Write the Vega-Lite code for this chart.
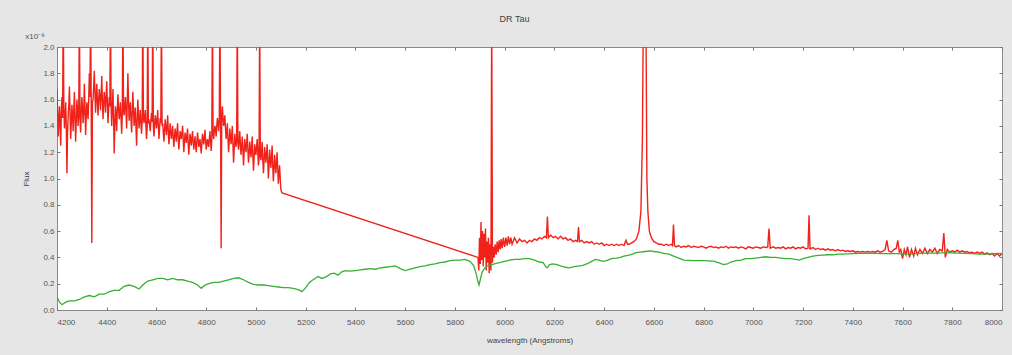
{
  "$schema": "https://vega.github.io/schema/vega-lite/v6.json",
  "autosize": {"type": "none"},
  "padding": {"left": 57, "top": 47, "right": 10, "bottom": 45},
  "width": 945,
  "height": 263,
  "background": "#e6e6e6",
  "title": {"text": "DR Tau", "fontSize": 9, "font": "Liberation Sans", "color": "#444", "fontWeight": "normal", "offset": 9, "dx": -15},
  "datasets": {
    "red": [
      {"w":4200,"f":1.68},{"w":4205,"f":1.32},{"w":4210,"f":1.55},{"w":4215,"f":1.25},{"w":4220,"f":1.62},{"w":4225,"f":2.3},{"w":4230,"f":1.38},{"w":4235,"f":1.58},{"w":4240,"f":1.04},{"w":4245,"f":1.48},
      {"w":4250,"f":1.70},{"w":4255,"f":1.30},{"w":4260,"f":1.56},{"w":4265,"f":1.36},{"w":4270,"f":1.66},{"w":4275,"f":1.28},{"w":4280,"f":1.60},{"w":4285,"f":1.40},{"w":4290,"f":2.3},{"w":4295,"f":1.35},
      {"w":4300,"f":1.62},{"w":4305,"f":1.42},{"w":4310,"f":1.72},{"w":4315,"f":1.33},{"w":4320,"f":1.58},{"w":4325,"f":1.45},{"w":4330,"f":1.80},{"w":4335,"f":2.3},{"w":4340,"f":0.51},{"w":4345,"f":1.60},
      {"w":4350,"f":1.82},{"w":4355,"f":1.50},{"w":4360,"f":1.72},{"w":4365,"f":1.48},{"w":4370,"f":1.68},{"w":4375,"f":1.52},{"w":4380,"f":1.78},{"w":4385,"f":1.45},{"w":4390,"f":1.66},{"w":4395,"f":1.50},
      {"w":4400,"f":1.74},{"w":4405,"f":1.42},{"w":4410,"f":1.62},{"w":4415,"f":2.3},{"w":4420,"f":1.40},{"w":4425,"f":1.68},{"w":4430,"f":1.19},{"w":4435,"f":1.55},{"w":4440,"f":1.36},{"w":4445,"f":1.64},
      {"w":4450,"f":1.45},{"w":4455,"f":1.58},{"w":4460,"f":1.34},{"w":4465,"f":2.3},{"w":4470,"f":1.48},{"w":4475,"f":1.62},{"w":4480,"f":1.38},{"w":4485,"f":1.80},{"w":4490,"f":1.44},{"w":4495,"f":1.58},
      {"w":4500,"f":1.35},{"w":4505,"f":1.66},{"w":4510,"f":1.40},{"w":4515,"f":1.54},{"w":4520,"f":1.25},{"w":4525,"f":1.60},{"w":4530,"f":1.38},{"w":4535,"f":1.52},{"w":4540,"f":1.34},{"w":4545,"f":2.3},
      {"w":4550,"f":1.42},{"w":4555,"f":1.52},{"w":4560,"f":1.30},{"w":4565,"f":2.3},{"w":4570,"f":1.45},{"w":4575,"f":1.36},{"w":4580,"f":1.50},{"w":4585,"f":2.3},{"w":4590,"f":1.32},{"w":4595,"f":1.48},
      {"w":4600,"f":1.38},{"w":4605,"f":1.52},{"w":4610,"f":1.30},{"w":4615,"f":1.46},{"w":4620,"f":2.3},{"w":4625,"f":1.42},{"w":4630,"f":1.28},{"w":4635,"f":1.45},{"w":4640,"f":1.33},{"w":4645,"f":1.48},
      {"w":4650,"f":1.26},{"w":4655,"f":1.42},{"w":4660,"f":1.30},{"w":4665,"f":1.40},{"w":4670,"f":1.24},{"w":4675,"f":1.38},{"w":4680,"f":1.28},{"w":4685,"f":1.42},{"w":4690,"f":1.22},{"w":4695,"f":1.36},
      {"w":4700,"f":1.30},{"w":4705,"f":1.40},{"w":4710,"f":1.20},{"w":4715,"f":1.35},{"w":4720,"f":1.27},{"w":4725,"f":1.38},{"w":4730,"f":1.18},{"w":4735,"f":1.34},{"w":4740,"f":1.25},{"w":4745,"f":1.36},
      {"w":4750,"f":1.22},{"w":4755,"f":1.32},{"w":4760,"f":1.20},{"w":4765,"f":1.35},{"w":4770,"f":1.24},{"w":4775,"f":1.30},{"w":4780,"f":1.19},{"w":4785,"f":1.34},{"w":4790,"f":1.26},{"w":4795,"f":1.37},
      {"w":4800,"f":1.22},{"w":4805,"f":1.30},{"w":4810,"f":1.24},{"w":4815,"f":1.36},{"w":4820,"f":1.21},{"w":4825,"f":2.3},{"w":4830,"f":1.30},{"w":4835,"f":1.40},{"w":4840,"f":1.32},{"w":4845,"f":1.46},
      {"w":4850,"f":1.36},{"w":4855,"f":2.3},{"w":4860,"f":0.47},{"w":4865,"f":1.55},{"w":4870,"f":1.40},{"w":4875,"f":1.48},{"w":4880,"f":1.30},{"w":4885,"f":1.42},{"w":4890,"f":1.20},{"w":4895,"f":1.38},
      {"w":4900,"f":1.26},{"w":4905,"f":1.40},{"w":4910,"f":1.12},{"w":4915,"f":1.34},{"w":4920,"f":1.24},{"w":4925,"f":2.3},{"w":4930,"f":1.22},{"w":4935,"f":1.36},{"w":4940,"f":1.18},{"w":4945,"f":1.32},
      {"w":4950,"f":1.10},{"w":4955,"f":1.30},{"w":4960,"f":1.20},{"w":4965,"f":1.34},{"w":4970,"f":1.12},{"w":4975,"f":1.28},{"w":4980,"f":1.16},{"w":4985,"f":1.32},{"w":4990,"f":1.06},{"w":4995,"f":1.26},
      {"w":5000,"f":1.18},{"w":5005,"f":1.30},{"w":5010,"f":1.10},{"w":5015,"f":2.3},{"w":5020,"f":1.14},{"w":5025,"f":1.28},{"w":5030,"f":1.04},{"w":5035,"f":1.24},{"w":5040,"f":1.12},{"w":5045,"f":1.26},
      {"w":5050,"f":1.00},{"w":5055,"f":1.22},{"w":5060,"f":1.08},{"w":5065,"f":1.25},{"w":5070,"f":0.98},{"w":5075,"f":1.18},{"w":5080,"f":1.04},{"w":5085,"f":1.20},{"w":5090,"f":0.96},{"w":5095,"f":1.10},
      {"w":5100,"f":0.92},{"w":5105,"f":0.89},
      {"w":4202.5,"f":1.50},{"w":4207.5,"f":1.44},{"w":4212.5,"f":1.40},{"w":4217.5,"f":1.52},{"w":4222.5,"f":1.46},{"w":4227.5,"f":1.55},{"w":4232.5,"f":1.45},{"w":4237.5,"f":1.38},{"w":4242.5,"f":1.35},{"w":4247.5,"f":1.56},
      {"w":4252.5,"f":1.50},{"w":4257.5,"f":1.42},{"w":4262.5,"f":1.48},{"w":4267.5,"f":1.52},{"w":4272.5,"f":1.45},{"w":4277.5,"f":1.44},{"w":4282.5,"f":1.52},{"w":4287.5,"f":1.50},{"w":4292.5,"f":1.46},{"w":4297.5,"f":1.50},
      {"w":4302.5,"f":1.54},{"w":4307.5,"f":1.50},{"w":4312.5,"f":1.55},{"w":4317.5,"f":1.46},{"w":4322.5,"f":1.52},{"w":4327.5,"f":1.60},{"w":4332.5,"f":1.62},{"w":4337.5,"f":1.60},{"w":4342.5,"f":1.58},{"w":4347.5,"f":1.70},
      {"w":4352.5,"f":1.66},{"w":4357.5,"f":1.62},{"w":4362.5,"f":1.58},{"w":4367.5,"f":1.60},{"w":4372.5,"f":1.62},{"w":4377.5,"f":1.64},{"w":4382.5,"f":1.60},{"w":4387.5,"f":1.56},{"w":4392.5,"f":1.60},{"w":4397.5,"f":1.62},
      {"w":4402.5,"f":1.58},{"w":4407.5,"f":1.52},{"w":4412.5,"f":1.55},{"w":4417.5,"f":1.56},{"w":4422.5,"f":1.54},{"w":4427.5,"f":1.46},{"w":4432.5,"f":1.40},{"w":4437.5,"f":1.48},{"w":4442.5,"f":1.52},{"w":4447.5,"f":1.54},
      {"w":4452.5,"f":1.50},{"w":4457.5,"f":1.46},{"w":4462.5,"f":1.48},{"w":4467.5,"f":1.52},{"w":4472.5,"f":1.56},{"w":4477.5,"f":1.50},{"w":4482.5,"f":1.58},{"w":4487.5,"f":1.60},{"w":4492.5,"f":1.52},{"w":4497.5,"f":1.45},
      {"w":4502.5,"f":1.50},{"w":4507.5,"f":1.53},{"w":4512.5,"f":1.48},{"w":4517.5,"f":1.40},{"w":4522.5,"f":1.44},{"w":4527.5,"f":1.49},{"w":4532.5,"f":1.45},{"w":4537.5,"f":1.42},{"w":4542.5,"f":1.44},{"w":4547.5,"f":1.46},
      {"w":4552.5,"f":1.47},{"w":4557.5,"f":1.40},{"w":4562.5,"f":1.38},{"w":4567.5,"f":1.42},{"w":4572.5,"f":1.40},{"w":4577.5,"f":1.44},{"w":4582.5,"f":1.43},{"w":4587.5,"f":1.40},{"w":4592.5,"f":1.41},{"w":4597.5,"f":1.44},
      {"w":4602.5,"f":1.45},{"w":4607.5,"f":1.40},{"w":4612.5,"f":1.38},{"w":4617.5,"f":1.42},{"w":4622.5,"f":1.40},{"w":4627.5,"f":1.35},{"w":4632.5,"f":1.37},{"w":4637.5,"f":1.39},{"w":4642.5,"f":1.40},{"w":4647.5,"f":1.36},
      {"w":4652.5,"f":1.33},{"w":4657.5,"f":1.36},{"w":4662.5,"f":1.35},{"w":4667.5,"f":1.31},{"w":4672.5,"f":1.32},{"w":4677.5,"f":1.33},{"w":4682.5,"f":1.36},{"w":4687.5,"f":1.31},{"w":4692.5,"f":1.29},{"w":4697.5,"f":1.33},
      {"w":4702.5,"f":1.35},{"w":4707.5,"f":1.30},{"w":4712.5,"f":1.28},{"w":4717.5,"f":1.31},{"w":4722.5,"f":1.33},{"w":4727.5,"f":1.27},{"w":4732.5,"f":1.26},{"w":4737.5,"f":1.30},{"w":4742.5,"f":1.31},{"w":4747.5,"f":1.28},
      {"w":4752.5,"f":1.27},{"w":4757.5,"f":1.25},{"w":4762.5,"f":1.28},{"w":4767.5,"f":1.30},{"w":4772.5,"f":1.27},{"w":4777.5,"f":1.24},{"w":4782.5,"f":1.27},{"w":4787.5,"f":1.30},{"w":4792.5,"f":1.31},{"w":4797.5,"f":1.29},
      {"w":4802.5,"f":1.26},{"w":4807.5,"f":1.27},{"w":4812.5,"f":1.30},{"w":4817.5,"f":1.28},{"w":4822.5,"f":1.30},{"w":4827.5,"f":1.34},{"w":4832.5,"f":1.36},{"w":4837.5,"f":1.37},{"w":4842.5,"f":1.40},{"w":4847.5,"f":1.42},
      {"w":4852.5,"f":1.45},{"w":4857.5,"f":1.50},{"w":4862.5,"f":1.48},{"w":4867.5,"f":1.46},{"w":4872.5,"f":1.44},{"w":4877.5,"f":1.38},{"w":4882.5,"f":1.35},{"w":4887.5,"f":1.30},{"w":4892.5,"f":1.28},{"w":4897.5,"f":1.32},
      {"w":4902.5,"f":1.33},{"w":4907.5,"f":1.26},{"w":4912.5,"f":1.22},{"w":4917.5,"f":1.28},{"w":4922.5,"f":1.30},{"w":4927.5,"f":1.27},{"w":4932.5,"f":1.28},{"w":4937.5,"f":1.26},{"w":4942.5,"f":1.24},{"w":4947.5,"f":1.22},
      {"w":4952.5,"f":1.20},{"w":4957.5,"f":1.24},{"w":4962.5,"f":1.27},{"w":4967.5,"f":1.22},{"w":4972.5,"f":1.19},{"w":4977.5,"f":1.22},{"w":4982.5,"f":1.24},{"w":4987.5,"f":1.18},{"w":4992.5,"f":1.15},{"w":4997.5,"f":1.21},
      {"w":5002.5,"f":1.24},{"w":5007.5,"f":1.20},{"w":5012.5,"f":1.16},{"w":5017.5,"f":1.18},{"w":5022.5,"f":1.20},{"w":5027.5,"f":1.15},{"w":5032.5,"f":1.13},{"w":5037.5,"f":1.18},{"w":5042.5,"f":1.19},{"w":5047.5,"f":1.14},
      {"w":5052.5,"f":1.10},{"w":5057.5,"f":1.15},{"w":5062.5,"f":1.16},{"w":5067.5,"f":1.10},{"w":5072.5,"f":1.07},{"w":5077.5,"f":1.11},{"w":5082.5,"f":1.12},{"w":5087.5,"f":1.08},{"w":5092.5,"f":1.03},{"w":5097.5,"f":1.01},
      {"w":5102.5,"f":0.90},
      {"w":5893,"f":0.40},{"w":5896,"f":0.30},{"w":5899,"f":0.55},{"w":5902,"f":0.35},{"w":5905,"f":0.67},{"w":5908,"f":0.38},{"w":5911,"f":0.60},{"w":5914,"f":0.33},{"w":5917,"f":0.58},{"w":5920,"f":0.40},
      {"w":5923,"f":0.62},{"w":5926,"f":0.30},{"w":5929,"f":0.52},{"w":5932,"f":0.36},{"w":5935,"f":0.55},{"w":5938,"f":0.28},{"w":5941,"f":0.50},{"w":5945,"f":0.30},{"w":5948,"f":2.3},{"w":5951,"f":0.36},
      {"w":5955,"f":0.48},{"w":5958,"f":0.40},{"w":5962,"f":0.50},{"w":5966,"f":0.42},{"w":5970,"f":0.52},{"w":5974,"f":0.44},{"w":5978,"f":0.53},{"w":5982,"f":0.46},{"w":5986,"f":0.54},{"w":5990,"f":0.47},
      {"w":5995,"f":0.55},{"w":6000,"f":0.48},{"w":6005,"f":0.55},{"w":6010,"f":0.49},{"w":6015,"f":0.56},{"w":6020,"f":0.50},{"w":6025,"f":0.55},{"w":6030,"f":0.50},{"w":6040,"f":0.55},{"w":6050,"f":0.51},
      {"w":6060,"f":0.54},{"w":6070,"f":0.52},{"w":6080,"f":0.53},{"w":6090,"f":0.51},{"w":6100,"f":0.53},{"w":6110,"f":0.52},{"w":6120,"f":0.54},{"w":6130,"f":0.53},{"w":6140,"f":0.55},{"w":6150,"f":0.54},
      {"w":6160,"f":0.56},{"w":6168,"f":0.55},{"w":6172,"f":0.71},{"w":6176,"f":0.55},{"w":6185,"f":0.57},{"w":6195,"f":0.55},{"w":6205,"f":0.56},{"w":6215,"f":0.54},{"w":6225,"f":0.56},{"w":6235,"f":0.54},
      {"w":6245,"f":0.55},{"w":6255,"f":0.53},{"w":6265,"f":0.54},{"w":6275,"f":0.52},{"w":6285,"f":0.53},{"w":6293,"f":0.52},{"w":6297,"f":0.63},{"w":6301,"f":0.52},{"w":6310,"f":0.53},{"w":6320,"f":0.51},
      {"w":6330,"f":0.52},{"w":6340,"f":0.51},{"w":6350,"f":0.52},{"w":6360,"f":0.50},{"w":6370,"f":0.51},{"w":6380,"f":0.50},{"w":6390,"f":0.51},{"w":6400,"f":0.49},{"w":6410,"f":0.50},{"w":6420,"f":0.49},
      {"w":6430,"f":0.50},{"w":6440,"f":0.49},{"w":6450,"f":0.50},{"w":6460,"f":0.49},{"w":6470,"f":0.50},{"w":6480,"f":0.49},{"w":6488,"f":0.53},{"w":6494,"f":0.50},{"w":6500,"f":0.50},{"w":6510,"f":0.51},
      {"w":6520,"f":0.52},{"w":6530,"f":0.54},{"w":6540,"f":0.60},{"w":6548,"f":0.75},{"w":6554,"f":1.30},{"w":6558,"f":2.3},{"w":6563,"f":2.5},{"w":6568,"f":2.3},{"w":6572,"f":1.0},{"w":6576,"f":0.75},
      {"w":6582,"f":0.60},{"w":6590,"f":0.55},{"w":6600,"f":0.52},{"w":6610,"f":0.51},{"w":6620,"f":0.50},{"w":6630,"f":0.50},{"w":6640,"f":0.49},{"w":6650,"f":0.50},{"w":6660,"f":0.49},{"w":6670,"f":0.50},
      {"w":6675,"f":0.49},{"w":6679,"f":0.65},{"w":6683,"f":0.49},{"w":6690,"f":0.48},{"w":6700,"f":0.49},{"w":6710,"f":0.475},{"w":6720,"f":0.485},{"w":6730,"f":0.48},{"w":6740,"f":0.49},{"w":6750,"f":0.475},
      {"w":6760,"f":0.485},{"w":6770,"f":0.48},{"w":6780,"f":0.475},{"w":6790,"f":0.485},{"w":6800,"f":0.48},{"w":6810,"f":0.47},{"w":6820,"f":0.48},{"w":6830,"f":0.485},{"w":6840,"f":0.475},{"w":6850,"f":0.48},
      {"w":6860,"f":0.47},{"w":6870,"f":0.48},{"w":6880,"f":0.475},{"w":6890,"f":0.485},{"w":6900,"f":0.47},{"w":6910,"f":0.48},{"w":6920,"f":0.475},{"w":6930,"f":0.48},{"w":6940,"f":0.47},{"w":6950,"f":0.48},
      {"w":6960,"f":0.475},{"w":6970,"f":0.465},{"w":6980,"f":0.48},{"w":6990,"f":0.475},{"w":7000,"f":0.47},{"w":7010,"f":0.48},{"w":7020,"f":0.475},{"w":7030,"f":0.47},{"w":7040,"f":0.48},{"w":7050,"f":0.475},
      {"w":7058,"f":0.48},{"w":7063,"f":0.62},{"w":7068,"f":0.47},{"w":7080,"f":0.48},{"w":7090,"f":0.47},{"w":7100,"f":0.475},{"w":7110,"f":0.47},{"w":7120,"f":0.48},{"w":7130,"f":0.465},{"w":7140,"f":0.475},
      {"w":7150,"f":0.47},{"w":7160,"f":0.48},{"w":7170,"f":0.465},{"w":7180,"f":0.475},{"w":7190,"f":0.47},{"w":7200,"f":0.48},{"w":7210,"f":0.465},{"w":7220,"f":0.47},{"w":7224,"f":0.72},{"w":7228,"f":0.465},
      {"w":7240,"f":0.475},{"w":7250,"f":0.46},{"w":7260,"f":0.47},{"w":7270,"f":0.46},{"w":7280,"f":0.465},{"w":7290,"f":0.455},{"w":7300,"f":0.465},{"w":7310,"f":0.455},{"w":7320,"f":0.46},{"w":7330,"f":0.45},
      {"w":7340,"f":0.46},{"w":7350,"f":0.45},{"w":7360,"f":0.455},{"w":7370,"f":0.445},{"w":7380,"f":0.45},{"w":7390,"f":0.445},{"w":7400,"f":0.45},{"w":7410,"f":0.44},{"w":7420,"f":0.445},{"w":7430,"f":0.44},
      {"w":7440,"f":0.445},{"w":7450,"f":0.44},{"w":7460,"f":0.445},{"w":7470,"f":0.44},{"w":7480,"f":0.445},{"w":7490,"f":0.44},{"w":7500,"f":0.45},{"w":7510,"f":0.44},{"w":7520,"f":0.445},{"w":7530,"f":0.46},
      {"w":7537,"f":0.53},{"w":7544,"f":0.45},{"w":7555,"f":0.44},{"w":7565,"f":0.46},{"w":7575,"f":0.47},{"w":7581,"f":0.53},{"w":7587,"f":0.44},{"w":7593,"f":0.46},{"w":7600,"f":0.39},{"w":7607,"f":0.46},
      {"w":7614,"f":0.42},{"w":7620,"f":0.48},{"w":7628,"f":0.40},{"w":7636,"f":0.46},{"w":7645,"f":0.41},{"w":7652,"f":0.47},{"w":7660,"f":0.42},{"w":7670,"f":0.46},{"w":7680,"f":0.43},{"w":7690,"f":0.47},
      {"w":7700,"f":0.43},{"w":7710,"f":0.46},{"w":7720,"f":0.44},{"w":7730,"f":0.47},{"w":7740,"f":0.43},{"w":7750,"f":0.46},{"w":7760,"f":0.45},{"w":7766,"f":0.585},{"w":7772,"f":0.40},{"w":7780,"f":0.46},
      {"w":7790,"f":0.44},{"w":7800,"f":0.45},{"w":7810,"f":0.44},{"w":7820,"f":0.455},{"w":7830,"f":0.44},{"w":7840,"f":0.45},{"w":7850,"f":0.44},{"w":7860,"f":0.445},{"w":7870,"f":0.435},{"w":7880,"f":0.44},
      {"w":7890,"f":0.43},{"w":7900,"f":0.44},{"w":7910,"f":0.43},{"w":7920,"f":0.44},{"w":7930,"f":0.425},{"w":7940,"f":0.435},{"w":7950,"f":0.42},{"w":7960,"f":0.43},{"w":7970,"f":0.41},{"w":7980,"f":0.43},
      {"w":7990,"f":0.41},{"w":8000,"f":0.43}
    ],
    "green": [
      {"w":4200,"f":0.10},{"w":4210,"f":0.06},{"w":4220,"f":0.04},{"w":4235,"f":0.06},{"w":4250,"f":0.07},{"w":4270,"f":0.07},{"w":4290,"f":0.08},{"w":4310,"f":0.10},{"w":4330,"f":0.11},{"w":4350,"f":0.10},
      {"w":4370,"f":0.12},{"w":4390,"f":0.12},{"w":4410,"f":0.14},{"w":4430,"f":0.15},{"w":4450,"f":0.15},{"w":4470,"f":0.18},{"w":4490,"f":0.19},{"w":4510,"f":0.18},{"w":4530,"f":0.16},{"w":4545,"f":0.19},
      {"w":4565,"f":0.22},{"w":4585,"f":0.23},{"w":4605,"f":0.24},{"w":4625,"f":0.24},{"w":4645,"f":0.23},{"w":4665,"f":0.24},{"w":4685,"f":0.23},{"w":4705,"f":0.23},{"w":4725,"f":0.22},{"w":4745,"f":0.21},
      {"w":4765,"f":0.19},{"w":4780,"f":0.165},{"w":4795,"f":0.19},{"w":4810,"f":0.20},{"w":4830,"f":0.21},{"w":4850,"f":0.21},{"w":4870,"f":0.22},{"w":4890,"f":0.23},{"w":4910,"f":0.24},{"w":4930,"f":0.245},
      {"w":4950,"f":0.23},{"w":4970,"f":0.21},{"w":4990,"f":0.195},{"w":5010,"f":0.19},{"w":5030,"f":0.19},{"w":5050,"f":0.185},{"w":5070,"f":0.18},{"w":5090,"f":0.175},{"w":5110,"f":0.17},{"w":5130,"f":0.17},
      {"w":5150,"f":0.165},{"w":5170,"f":0.155},{"w":5185,"f":0.14},{"w":5200,"f":0.17},{"w":5215,"f":0.21},{"w":5230,"f":0.23},{"w":5250,"f":0.255},{"w":5265,"f":0.24},{"w":5280,"f":0.25},{"w":5300,"f":0.275},
      {"w":5315,"f":0.28},{"w":5330,"f":0.265},{"w":5345,"f":0.29},{"w":5360,"f":0.30},{"w":5380,"f":0.295},{"w":5400,"f":0.30},{"w":5420,"f":0.305},{"w":5440,"f":0.31},{"w":5460,"f":0.315},{"w":5480,"f":0.31},
      {"w":5500,"f":0.32},{"w":5520,"f":0.325},{"w":5540,"f":0.33},{"w":5560,"f":0.335},{"w":5580,"f":0.315},{"w":5600,"f":0.30},{"w":5620,"f":0.31},{"w":5640,"f":0.32},{"w":5660,"f":0.33},{"w":5680,"f":0.335},
      {"w":5700,"f":0.345},{"w":5720,"f":0.35},{"w":5740,"f":0.36},{"w":5760,"f":0.365},{"w":5780,"f":0.375},{"w":5800,"f":0.38},{"w":5820,"f":0.38},{"w":5840,"f":0.385},{"w":5860,"f":0.37},{"w":5875,"f":0.34},
      {"w":5885,"f":0.28},{"w":5892,"f":0.22},{"w":5897,"f":0.19},{"w":5902,"f":0.23},{"w":5910,"f":0.29},{"w":5920,"f":0.32},{"w":5935,"f":0.34},{"w":5950,"f":0.345},{"w":5965,"f":0.355},{"w":5980,"f":0.36},
      {"w":6000,"f":0.37},{"w":6020,"f":0.38},{"w":6040,"f":0.385},{"w":6060,"f":0.385},{"w":6080,"f":0.39},{"w":6100,"f":0.39},{"w":6120,"f":0.38},{"w":6140,"f":0.365},{"w":6155,"f":0.36},{"w":6165,"f":0.33},
      {"w":6172,"f":0.32},{"w":6180,"f":0.345},{"w":6195,"f":0.35},{"w":6210,"f":0.345},{"w":6225,"f":0.335},{"w":6245,"f":0.325},{"w":6260,"f":0.32},{"w":6280,"f":0.33},{"w":6300,"f":0.335},{"w":6315,"f":0.34},
      {"w":6335,"f":0.355},{"w":6350,"f":0.37},{"w":6365,"f":0.385},{"w":6380,"f":0.38},{"w":6395,"f":0.37},{"w":6410,"f":0.375},{"w":6430,"f":0.39},{"w":6450,"f":0.395},{"w":6465,"f":0.40},{"w":6480,"f":0.41},
      {"w":6500,"f":0.418},{"w":6515,"f":0.425},{"w":6527,"f":0.436},{"w":6545,"f":0.44},{"w":6565,"f":0.445},{"w":6585,"f":0.45},{"w":6600,"f":0.445},{"w":6620,"f":0.44},{"w":6640,"f":0.43},{"w":6660,"f":0.425},
      {"w":6680,"f":0.41},{"w":6700,"f":0.395},{"w":6720,"f":0.38},{"w":6740,"f":0.378},{"w":6760,"f":0.376},{"w":6780,"f":0.375},{"w":6800,"f":0.375},{"w":6820,"f":0.374},{"w":6840,"f":0.372},{"w":6860,"f":0.36},
      {"w":6880,"f":0.345},{"w":6895,"f":0.35},{"w":6910,"f":0.365},{"w":6930,"f":0.375},{"w":6950,"f":0.38},{"w":6970,"f":0.39},{"w":6990,"f":0.39},{"w":7010,"f":0.395},{"w":7030,"f":0.40},{"w":7050,"f":0.405},
      {"w":7070,"f":0.40},{"w":7090,"f":0.40},{"w":7110,"f":0.395},{"w":7130,"f":0.39},{"w":7150,"f":0.39},{"w":7170,"f":0.385},{"w":7185,"f":0.38},{"w":7200,"f":0.39},{"w":7220,"f":0.40},{"w":7240,"f":0.41},
      {"w":7260,"f":0.415},{"w":7280,"f":0.418},{"w":7300,"f":0.42},{"w":7320,"f":0.42},{"w":7340,"f":0.425},{"w":7360,"f":0.425},{"w":7380,"f":0.427},{"w":7400,"f":0.428},{"w":7430,"f":0.43},{"w":7460,"f":0.43},
      {"w":7490,"f":0.43},{"w":7520,"f":0.428},{"w":7550,"f":0.428},{"w":7580,"f":0.428},{"w":7610,"f":0.425},{"w":7640,"f":0.427},{"w":7670,"f":0.43},{"w":7700,"f":0.432},{"w":7730,"f":0.433},{"w":7760,"f":0.435},
      {"w":7790,"f":0.434},{"w":7820,"f":0.432},{"w":7850,"f":0.43},{"w":7880,"f":0.428},{"w":7910,"f":0.425},{"w":7940,"f":0.426},{"w":7970,"f":0.428},{"w":8000,"f":0.43}
    ]
  },
  "layer": [
    {
      "data": {"name": "red"},
      "mark": {"type": "line", "color": "#f0221a", "strokeWidth": 1.4, "clip": true},
      "encoding": {
        "x": {"field": "w", "type": "quantitative", "scale": {"domain": [4200, 8000], "nice": false, "zero": false},
          "axis": {"orient": "bottom", "values": [4200,4400,4600,4800,5000,5200,5400,5600,5800,6000,6200,6400,6600,6800,7000,7200,7400,7600,7800,8000], "format": "d", "title": "wavelength (Angstroms)", "labelPadding": 11, "titlePadding": 10}},
        "y": {"field": "f", "type": "quantitative", "scale": {"domain": [0, 2], "nice": false, "zero": false},
          "axis": {"orient": "left", "values": [0,0.2,0.4,0.6,0.8,1,1.2,1.4,1.6,1.8,2], "format": ".1f", "title": "Flux", "labelPadding": 6, "titlePadding": 12}}
      }
    },
    {
      "data": {"name": "green"},
      "mark": {"type": "line", "color": "#38b032", "strokeWidth": 1.3, "clip": true},
      "encoding": {
        "x": {"field": "w", "type": "quantitative", "axis": null},
        "y": {"field": "f", "type": "quantitative", "axis": null}
      }
    },
    {
      "data": {"name": "green"},
      "mark": {"type": "line", "opacity": 0},
      "encoding": {
        "x": {"field": "w", "type": "quantitative",
          "axis": {"orient": "top", "values": [4200,4400,4600,4800,5000,5200,5400,5600,5800,6000,6200,6400,6600,6800,7000,7200,7400,7600,7800,8000], "labels": false, "title": null}},
        "y": {"field": "f", "type": "quantitative",
          "axis": {"orient": "right", "values": [0,0.2,0.4,0.6,0.8,1,1.2,1.4,1.6,1.8,2], "labels": false, "title": null}}
      }
    },
    {
      "data": {"values": [{"t": "x10⁻⁸"}]},
      "mark": {"type": "text", "font": "Liberation Sans", "fontSize": 8, "color": "#555", "align": "center", "baseline": "middle", "dx": -22, "dy": -10},
      "encoding": {
        "x": {"datum": 4200, "type": "quantitative", "axis": null},
        "y": {"datum": 2, "type": "quantitative", "axis": null},
        "text": {"field": "t"}
      }
    }
  ],
  "resolve": {"axis": {"x": "independent", "y": "independent"}},
  "config": {
    "view": {"stroke": "#8a8a8a", "fill": "#ffffff", "strokeWidth": 1},
    "axis": {
      "labelFont": "Liberation Sans", "labelFontSize": 8, "labelColor": "#555",
      "titleFont": "Liberation Sans", "titleFontSize": 8, "titleColor": "#444", "titleFontWeight": "normal",
      "tickColor": "#777", "tickSize": -3, "domain": false, "grid": false
    }
  }
}
